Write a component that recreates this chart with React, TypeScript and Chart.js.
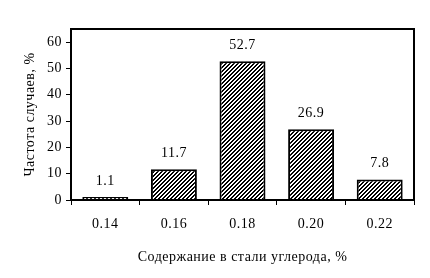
import React, { useEffect, useRef } from "react";
import { Chart, registerables } from "chart.js";

Chart.register(...registerables);

const categories = ["0.14", "0.16", "0.18", "0.20", "0.22"];
const values = [1.1, 11.7, 52.7, 26.9, 7.8];
const valueLabels = ["1.1", "11.7", "52.7", "26.9", "7.8"];
const yTicks = [0, 10, 20, 30, 40, 50, 60];
const xTitle = "Содержание в стали углерода, %";
const yTitle = "Частота случаев, %";

const FONT_FAMILY = "'Liberation Serif', 'Times New Roman', serif";

function makeHatch(): CanvasPattern | string {
  const c = document.createElement("canvas");
  c.width = 4;
  c.height = 4;
  const g = c.getContext("2d");
  if (!g) return "#fff";
  const img = g.createImageData(4, 4);
  for (let y = 0; y < 4; y++) {
    for (let x = 0; x < 4; x++) {
      const black = (x + y) % 4 < 2;
      const i = (y * 4 + x) * 4;
      const v = black ? 0 : 255;
      img.data[i] = v;
      img.data[i + 1] = v;
      img.data[i + 2] = v;
      img.data[i + 3] = 255;
    }
  }
  g.putImageData(img, 0, 0);
  const p = g.createPattern(c, "repeat");
  return p || "#fff";
}

export default function App() {
  const ref = useRef<HTMLCanvasElement | null>(null);

  useEffect(() => {
    if (!ref.current) return;
    const font = { family: FONT_FAMILY, size: 14 };
    const extras = {
      id: "extras",
      beforeDraw(chart: any) {
        (chart.ctx as any).letterSpacing = "0.5px";
      },
      afterDraw(chart: any) {
        const { ctx, chartArea } = chart;
        ctx.save();
        ctx.strokeStyle = "#000";
        ctx.lineWidth = 2;
        ctx.strokeRect(chartArea.left, chartArea.top, chartArea.right - chartArea.left, chartArea.bottom - chartArea.top);
        ctx.fillStyle = "#000";
        ctx.font = `14px ${FONT_FAMILY}`;
        ctx.textAlign = "center";
        ctx.textBaseline = "middle";
        const meta = chart.getDatasetMeta(0);
        meta.data.forEach((bar: any, i: number) => {
          ctx.fillText(valueLabels[i], bar.x, bar.y - 16);
        });
        ctx.restore();
      },
    };
    const chart = new Chart(ref.current, {
      type: "bar",
      data: {
        labels: categories,
        datasets: [
          {
            data: values,
            backgroundColor: makeHatch() as any,
            borderColor: "#000",
            borderWidth: 2,
            barPercentage: 0.67,
            categoryPercentage: 1,
          },
        ],
      },
      options: {
        animation: false,
        responsive: false,
        devicePixelRatio: 1,
        layout: { padding: { left: 0, top: 29, right: 16, bottom: 0 } },
        plugins: { legend: { display: false }, tooltip: { enabled: false } },
        scales: {
          x: {
            offset: true,
            grid: { offset: true, drawOnChartArea: false, drawTicks: true, tickLength: 5, color: "#000", lineWidth: 1 },
            border: { display: true, color: "#000", width: 2 },
            ticks: { color: "#000", font, padding: 11, maxRotation: 0 },
            title: { display: true, text: xTitle, color: "#000", font, padding: { top: 0, bottom: 12 } },
            afterFit: (s: any) => {
              s.height = 78;
            },
          },
          y: {
            min: 0,
            max: 65,
            ticks: { stepSize: 10, color: "#000", font, padding: 4 },
            grid: { drawOnChartArea: false, drawTicks: true, tickLength: 5, color: "#000", lineWidth: 1 },
            border: { display: true, color: "#000", width: 2 },
            title: { display: true, text: yTitle, color: "#000", font, padding: { top: 22, bottom: 0 } },
            afterBuildTicks: (axis: any) => {
              axis.ticks = yTicks.map((v) => ({ value: v }));
            },
            afterFit: (s: any) => {
              s.width = 71;
            },
          },
        },
      },
      plugins: [extras],
    });
    return () => chart.destroy();
  }, []);

  return (
    <div style={{ position: "absolute", left: 0, top: 0, width: 430, height: 278, background: "#fff" }}>
      <canvas ref={ref} width={430} height={278} />
    </div>
  );
}
